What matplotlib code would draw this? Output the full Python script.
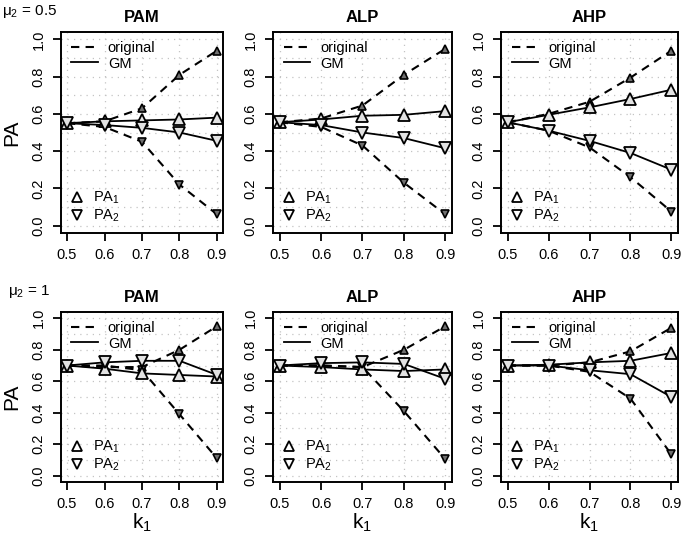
import matplotlib
matplotlib.use("Agg")
import matplotlib.pyplot as plt
from matplotlib.lines import Line2D

plt.rcParams['font.family'] = ['Liberation Sans', 'DejaVu Sans']
plt.rcParams['mathtext.fontset'] = 'custom'
plt.rcParams['mathtext.rm'] = 'Liberation Sans'
plt.rcParams['mathtext.it'] = 'Liberation Sans:italic'

k1 = [0.5, 0.6, 0.7, 0.8, 0.9]
methods = ["PAM", "ALP", "AHP"]
mu_labels = [r"μ$_2$ = 0.5", r"μ$_2$ = 1"]

# mu2 = 0.5 (top row)
pam_top_orig1 = [0.55, 0.56, 0.63, 0.81, 0.94]
pam_top_orig2 = [0.55, 0.53, 0.45, 0.22, 0.06]
pam_top_gm1 = [0.55, 0.56, 0.565, 0.57, 0.58]
pam_top_gm2 = [0.55, 0.54, 0.525, 0.50, 0.455]

alp_top_orig1 = [0.555, 0.575, 0.645, 0.81, 0.95]
alp_top_orig2 = [0.555, 0.53, 0.43, 0.23, 0.06]
alp_top_gm1 = [0.555, 0.57, 0.59, 0.595, 0.615]
alp_top_gm2 = [0.555, 0.54, 0.50, 0.47, 0.415]

ahp_top_orig1 = [0.555, 0.60, 0.665, 0.795, 0.94]
ahp_top_orig2 = [0.555, 0.51, 0.42, 0.26, 0.075]
ahp_top_gm1 = [0.555, 0.595, 0.635, 0.68, 0.73]
ahp_top_gm2 = [0.555, 0.51, 0.455, 0.39, 0.30]

# mu2 = 1 (bottom row)
pam_bot_orig1 = [0.70, 0.69, 0.69, 0.80, 0.95]
pam_bot_orig2 = [0.70, 0.70, 0.67, 0.39, 0.11]
pam_bot_gm1 = [0.70, 0.68, 0.65, 0.64, 0.63]
pam_bot_gm2 = [0.70, 0.72, 0.73, 0.73, 0.64]

alp_bot_orig1 = [0.70, 0.70, 0.69, 0.80, 0.95]
alp_bot_orig2 = [0.70, 0.70, 0.69, 0.41, 0.105]
alp_bot_gm1 = [0.70, 0.69, 0.675, 0.665, 0.675]
alp_bot_gm2 = [0.70, 0.715, 0.72, 0.71, 0.615]

ahp_bot_orig1 = [0.70, 0.70, 0.72, 0.79, 0.94]
ahp_bot_orig2 = [0.70, 0.70, 0.66, 0.49, 0.135]
ahp_bot_gm1 = [0.70, 0.705, 0.72, 0.73, 0.78]
ahp_bot_gm2 = [0.70, 0.70, 0.67, 0.645, 0.50]

panels = [
    [(pam_top_orig1, pam_top_orig2, pam_top_gm1, pam_top_gm2),
     (alp_top_orig1, alp_top_orig2, alp_top_gm1, alp_top_gm2),
     (ahp_top_orig1, ahp_top_orig2, ahp_top_gm1, ahp_top_gm2)],
    [(pam_bot_orig1, pam_bot_orig2, pam_bot_gm1, pam_bot_gm2),
     (alp_bot_orig1, alp_bot_orig2, alp_bot_gm1, alp_bot_gm2),
     (ahp_bot_orig1, ahp_bot_orig2, ahp_bot_gm1, ahp_bot_gm2)],
]

W, H = 685, 540
fig = plt.figure(figsize=(W / 100, H / 100), dpi=100)

# pixel boxes (left, width) per column and (top, bottom) per row
cols = [(61, 162), (273, 179), (501, 177)]
rows = [(32, 233), (312, 482)]

dash = (0, (4, 3))
yt = [0, 0.2, 0.4, 0.6, 0.8, 1.0]
for r, (top, bot) in enumerate(rows):
    for c, (left, width) in enumerate(cols):
        ax = fig.add_axes([left / W, 1 - bot / H, width / W, (bot - top) / H])
        o1, o2, g1, g2 = panels[r][c]

        for gx in k1:
            ax.axvline(gx, color='#c4c4c4', lw=0.9, ls=(0, (1, 4)), zorder=0)
        for gy in [i / 10 for i in range(11)]:
            ax.axhline(gy, color='#c4c4c4', lw=0.9, ls=(0, (1, 4)), zorder=0)

        ax.plot(k1, o1, ls=dash, color='black', lw=1.5, marker='^', ms=5.5,
                mfc='#707070', mec='black', mew=1.2, zorder=3)
        ax.plot(k1, o2, ls=dash, color='black', lw=1.5, marker='v', ms=5.5,
                mfc='#707070', mec='black', mew=1.2, zorder=3)
        ax.plot(k1, g1, ls='-', color='black', lw=1.3, marker='^', ms=8,
                mfc='#e2e2e2', mec='black', mew=1.3, zorder=4)
        ax.plot(k1, g2, ls='-', color='black', lw=1.3, marker='v', ms=8,
                mfc='#e2e2e2', mec='black', mew=1.3, zorder=4)

        ax.set_xlim(0.484, 0.916)
        ax.set_ylim(-0.04, 1.04)
        ax.set_xticks(k1)
        ax.set_xticklabels([f"{v:.1f}" for v in k1])
        ax.set_yticks(yt)
        ax.set_yticklabels([f"{v:.1f}" for v in yt], rotation=90, va='center')
        ax.tick_params(axis='both', direction='out', length=6, width=1.3,
                       labelsize=10.5, color='black')
        ax.tick_params(axis='x', pad=5)
        ax.tick_params(axis='y', pad=5)
        for sp in ax.spines.values():
            sp.set_linewidth(1.4)

        ax.set_title(methods[c], fontsize=12, fontweight='bold', pad=7)

        h1 = [Line2D([], [], color='black', ls=dash, lw=1.5),
              Line2D([], [], color='black', ls='-', lw=1.3)]
        leg1 = ax.legend(h1, ["original", "GM"], loc='upper left', frameon=False,
                         fontsize=10.5, handlelength=1.8, handletextpad=0.7,
                         labelspacing=0.12, borderaxespad=0.2,
                         bbox_to_anchor=(0.01, 1.0))
        ax.add_artist(leg1)
        h2 = [Line2D([], [], ls='none', marker='^', ms=7, mfc='none',
                     mec='black', mew=1.3),
              Line2D([], [], ls='none', marker='v', ms=7, mfc='none',
                     mec='black', mew=1.3)]
        ax.legend(h2, [r"PA$_1$", r"PA$_2$"], loc='lower left', frameon=False,
                  fontsize=10.5, handlelength=1.0, handletextpad=0.6,
                  labelspacing=0.1, borderaxespad=0.2,
                  bbox_to_anchor=(0.0, 0.0))

        if r == 1:
            ax.set_xlabel(r"k$_1$", fontsize=15, labelpad=0)

    fig.text(12 / W, 1 - (top + bot) / 2 / H, "PA", fontsize=15,
             rotation=90, ha='center', va='center')

fig.text(2 / W, 1 - 12 / H, mu_labels[0], fontsize=11, ha='left', va='center')
fig.text(8 / W, 1 - 292 / H, mu_labels[1], fontsize=11, ha='left', va='center')

fig.savefig("out.png", dpi=100)
